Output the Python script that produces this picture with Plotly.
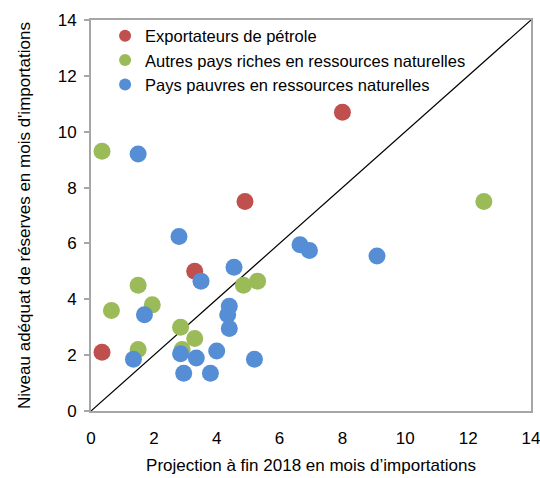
import plotly.graph_objects as go

# Data
oil_x = [8.0, 4.9, 3.3, 0.35]
oil_y = [10.7, 7.5, 5.0, 2.1]

rich_x = [0.35, 12.5, 5.3, 4.85, 1.5, 1.95, 0.65, 2.85, 3.3, 1.5, 2.9]
rich_y = [9.3, 7.5, 4.65, 4.5, 4.5, 3.8, 3.6, 3.0, 2.6, 2.2, 2.2]

poor_x = [1.5, 2.8, 6.65, 6.95, 9.1, 4.55, 3.5, 4.4, 4.35, 4.4, 1.7, 2.85, 3.35, 1.35, 4.0, 5.2, 2.95, 3.8]
poor_y = [9.2, 6.25, 5.95, 5.75, 5.55, 5.15, 4.65, 3.75, 3.45, 2.95, 3.45, 2.05, 1.9, 1.85, 2.15, 1.85, 1.35, 1.35]

line_x = [0, 14]
line_y = [0, 14]

tick_vals = [0, 2, 4, 6, 8, 10, 12, 14]

names = ["Exportateurs de pétrole",
         "Autres pays riches en ressources naturelles",
         "Pays pauvres en ressources naturelles"]
colors = ["#C0504D", "#9BBB59", "#558ED5"]

FONT = "Liberation Sans Narrow, Arial Narrow, Liberation Sans, Arial, sans-serif"

fig = go.Figure()
fig.add_trace(go.Scatter(x=line_x, y=line_y, mode="lines",
                         line=dict(color="black", width=1.2),
                         showlegend=False, hoverinfo="skip"))
for xs, ys, nm, c in [(oil_x, oil_y, names[0], colors[0]),
                      (rich_x, rich_y, names[1], colors[1]),
                      (poor_x, poor_y, names[2], colors[2])]:
    fig.add_trace(go.Scatter(x=xs, y=ys, mode="markers", name=nm,
                             marker=dict(color=c, size=17, line=dict(width=0))))

fig.update_layout(
    width=540, height=478,
    margin=dict(l=91, r=9, t=20, b=67, autoexpand=False),
    paper_bgcolor="white", plot_bgcolor="white",
    font=dict(family=FONT, size=17, color="black"),
    showlegend=True,
    legend=dict(x=0.032, y=1.004, xanchor="left", yanchor="top",
                bgcolor="rgba(0,0,0,0)", font=dict(size=16.5),
                itemsizing="constant", tracegroupgap=0,
                traceorder="normal"),
)
fig.update_xaxes(range=[0, 14], tickvals=tick_vals, automargin=False,
                 showgrid=False, zeroline=False, showline=True,
                 linecolor="#A6A6A6", linewidth=2, mirror=True,
                 ticks="", ticklen=0, ticklabelstandoff=11,
                 ticklabeloverflow="allow",
                 title=dict(text="Projection à fin 2018 en mois d’importations",
                            font=dict(size=17), standoff=12))
fig.update_yaxes(range=[0, 14], tickvals=tick_vals, automargin=False,
                 showgrid=False, zeroline=False, showline=True,
                 linecolor="#A6A6A6", linewidth=2, mirror=True,
                 ticks="outside", ticklen=5, tickcolor="#A6A6A6", tickwidth=2,
                 ticklabelstandoff=4, ticklabeloverflow="allow",
                 title=dict(text="Niveau adéquat de réserves en mois d'importations",
                            font=dict(size=17), standoff=23))

# remove the default page margin so the 540x478 figure fills the window exactly
fig.write_html("out.html",
               config={"displayModeBar": False},
               post_script="document.body.style.margin='0px';document.body.style.overflow='hidden';")
